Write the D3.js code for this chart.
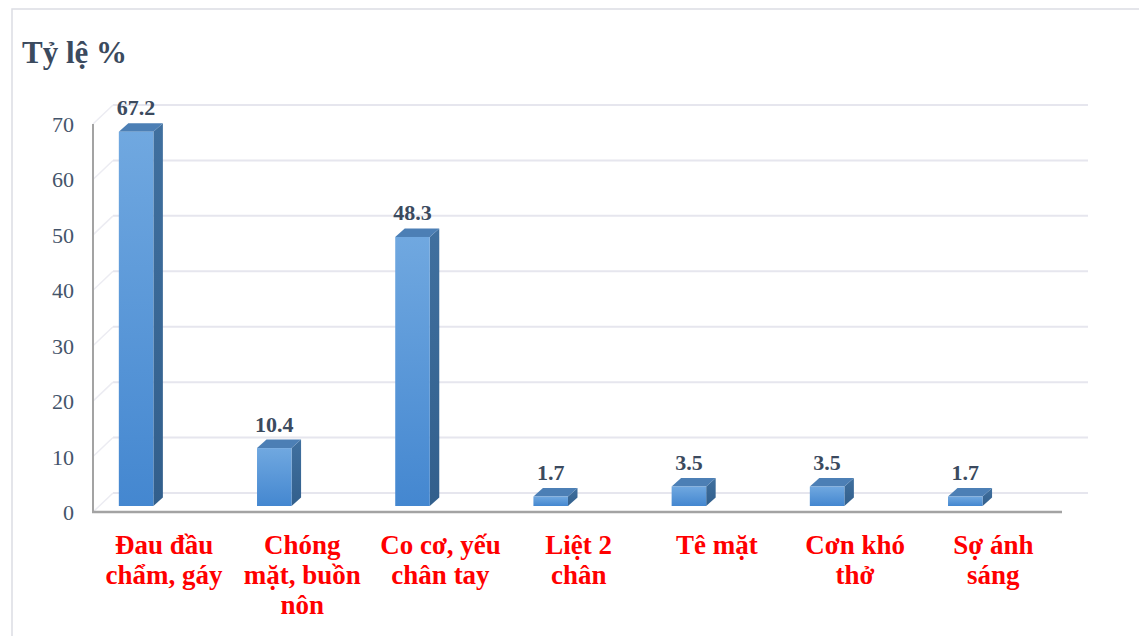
<!DOCTYPE html>
<html>
<head>
<meta charset="utf-8">
<script src="https://cdn.jsdelivr.net/npm/d3@7"></script>
<style>
body { margin: 0; background: #fff; }
svg { display: block; }
</style>
</head>
<body>
<script>
// data
var categoryLines = [["Đau đầu", "chẩm, gáy"], ["Chóng", "mặt, buồn", "nôn"], ["Co cơ, yếu", "chân tay"], ["Liệt 2", "chân"], ["Tê mặt"], ["Cơn khó", "thở"], ["Sợ ánh", "sáng"]];
var categories = categoryLines.map(function (l) { return l.join(" "); });
var values = [67.2, 10.4, 48.3, 1.7, 3.5, 3.5, 1.7];
var yTicks = [0, 10, 20, 30, 40, 50, 60, 70];
var title = "Tỷ lệ %";

var width = 1139, height = 636;
var serif = "'Times New Roman', 'Liberation Serif', serif";
// depth of the floor / back wall and of each bar
var wallDx = 20, wallDy = -19;
var barDx = 9.5, barDy = -8.5;

var svg = d3.select("body").append("svg").attr("width", width).attr("height", height);

var defs = svg.append("defs");
var gFront = defs.append("linearGradient").attr("id", "front").attr("x1", 0).attr("y1", 0).attr("x2", 0).attr("y2", 1);
gFront.append("stop").attr("offset", "0%").attr("stop-color", "#70a8e0");
gFront.append("stop").attr("offset", "100%").attr("stop-color", "#4487d0");
var gSide = defs.append("linearGradient").attr("id", "side").attr("x1", 0).attr("y1", 0).attr("x2", 0).attr("y2", 1);
gSide.append("stop").attr("offset", "0%").attr("stop-color", "#40709f");
gSide.append("stop").attr("offset", "100%").attr("stop-color", "#325f8c");

// outer frame
svg.append("path").attr("d", "M12," + height + "V9H" + width)
    .style("fill", "none").style("stroke", "#dcdde3").style("stroke-width", 1.5);

svg.append("text").attr("x", 22).attr("y", 63).text(title)
    .style("font-family", serif).style("font-weight", "bold").style("font-size", "31px").style("fill", "#3b4a5e");

// scales
var x = d3.scaleBand().domain(categories).range([67, 67 + 7 * 138.2]).paddingInner(0.75).paddingOuter(0.375);
var yFront = d3.scaleLinear().domain([0, 70]).range([512, 124]);
var yBack = d3.scaleLinear().domain([0, 70]).range([yFront(0) + wallDy, yFront(70) + wallDy]);
var yBar = d3.scaleLinear().domain([0, 70]).range([506, 506 - 70 * 5.57]);
var axisX = 93, floorRight = 1068;

// back wall gridlines
svg.append("g").selectAll("line").data(yTicks).enter().append("line")
    .attr("x1", axisX + wallDx).attr("x2", floorRight + wallDx)
    .attr("y1", function (d) { return yBack(d); })
    .attr("y2", function (d) { return yBack(d); })
    .style("stroke", "#e6e6ee").style("stroke-width", 2);
// side wall diagonals
svg.append("g").selectAll("line").data(yTicks).enter().append("line")
    .attr("x1", axisX).attr("x2", axisX + wallDx)
    .attr("y1", function (d) { return yFront(d); })
    .attr("y2", function (d) { return yBack(d); })
    .style("stroke", "#ececf2").style("stroke-width", 1.5);

// axes lines
svg.append("line").attr("x1", axisX).attr("x2", axisX).attr("y1", yFront(70)).attr("y2", yFront(0))
    .style("stroke", "#a3a3a3").style("stroke-width", 2);
svg.append("line").attr("x1", axisX - 1).attr("x2", floorRight - 6).attr("y1", yFront(0)).attr("y2", yFront(0))
    .style("stroke", "#a3a3a3").style("stroke-width", 2.5);

// y tick labels
svg.append("g").selectAll("text").data(yTicks).enter().append("text")
    .attr("x", 74)
    .attr("y", function (d) { return yFront(d) + 8; })
    .attr("text-anchor", "end")
    .text(function (d) { return d; })
    .style("font-family", serif).style("font-size", "22px").style("fill", "#44546a");

// bars
var bars = svg.append("g").selectAll("g").data(values).enter().append("g");
bars.append("path").attr("d", function (d, i) {
    var x0 = x(categories[i]), x1 = x0 + x.bandwidth(), y0 = yBar(0), y1 = yBar(d);
    var p = d3.path();
    p.moveTo(x1, y0); p.lineTo(x1 + barDx, y0 + barDy); p.lineTo(x1 + barDx, y1 + barDy); p.lineTo(x1, y1); p.closePath();
    return p.toString();
}).style("fill", "url(#side)");
bars.append("path").attr("d", function (d, i) {
    var x0 = x(categories[i]), x1 = x0 + x.bandwidth(), y1 = yBar(d);
    var p = d3.path();
    p.moveTo(x0, y1); p.lineTo(x1, y1); p.lineTo(x1 + barDx, y1 + barDy); p.lineTo(x0 + barDx, y1 + barDy); p.closePath();
    return p.toString();
}).style("fill", "#4c7fb5");
bars.append("rect")
    .attr("x", function (d, i) { return x(categories[i]); })
    .attr("y", function (d) { return yBar(d); })
    .attr("width", x.bandwidth())
    .attr("height", function (d) { return yBar(0) - yBar(d); })
    .style("fill", "url(#front)");

// value labels
svg.append("g").selectAll("text").data(values).enter().append("text")
    .attr("x", function (d, i) { return x(categories[i]) + x.bandwidth() / 2; })
    .attr("y", function (d) { return yBar(d) + barDy - 8; })
    .attr("text-anchor", "middle")
    .text(function (d) { return d; })
    .style("font-family", serif).style("font-weight", "bold").style("font-size", "22px").style("fill", "#3b4a5e");

// category labels
var cat = svg.append("g").selectAll("text").data(categoryLines).enter().append("text")
    .attr("text-anchor", "middle")
    .style("font-family", serif).style("font-weight", "bold").style("font-size", "27px").style("fill", "#ff0000");
cat.selectAll("tspan").data(function (d, i) {
    return d.map(function (s) { return { s: s, i: i }; });
}).enter().append("tspan")
    .attr("x", function (d) { return x(categories[d.i]) + x.bandwidth() / 2 + 28; })
    .attr("y", function (d, j) { return 554 + j * 30; })
    .text(function (d) { return d.s; });
</script>
</body>
</html>
